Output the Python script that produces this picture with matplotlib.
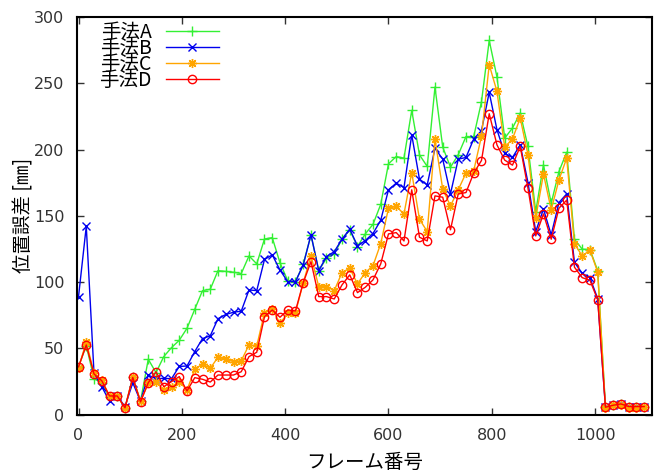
import matplotlib
matplotlib.use("Agg")
import matplotlib.pyplot as plt
import numpy as np

plt.rcParams['font.family'] = ['Noto Sans CJK JP', 'DejaVu Sans']

frames = [15 * i for i in range(74)]

method_a = [36, 52, 27, 24, 13, 14, 5, 28, 10, 41.7, 31.6, 43.7, 50.5, 56, 65.1, 79.4, 93.5, 94.5,
            108.6, 108, 107.4, 106.4, 119.7, 113.7, 132.5, 133.5, 114.5, 101, 100.3, 113.4, 135.6,
            108.6, 118, 121.2, 132.3, 139.3, 126.8, 136.3, 143.5, 158.6, 189.2, 194.7, 193.5, 229.5,
            196, 187.2, 247.1, 201.8, 186.7, 196, 209.8, 209.8, 236, 282.3, 254.7, 208.6, 216.2,
            227.5, 202.3, 153.2, 188.4, 159.5, 183.4, 198, 132.3, 124.8, 124.5, 108.5,
            5.5, 7, 8, 6, 6, 6]
method_b = [89, 142, 31, 21, 10, 14, 6, 24, 10, 29.8, 27, 27.3, 27, 36.3, 36.6, 47.5, 57.3, 59.4,
            72.3, 75.5, 77.2, 78, 94, 93.5, 117, 120.5, 109, 100.3, 100.3, 112.9, 135.6,
            108.6, 119.2, 122.9, 132.3, 139.9, 127.3, 131.3, 136.6, 146.6, 169.6, 174.6, 171.3, 211.1,
            177.6, 173.3, 201, 192.7, 166.5, 192.7, 194, 208, 214.2, 243.1, 214.9, 197, 194,
            203.5, 175.1, 138.1, 155, 135.6, 160, 166.5, 114.8, 106.6, 103.1, 87.5,
            5.5, 7, 8, 6, 6, 6]
method_c = [35, 55, 31, 26, 14, 14, 5, 28, 10, 23.5, 24.8, 18.5, 21, 24.8, 18.5, 34.1, 38.1, 34.9,
            43.2, 41.7, 39.9, 40.6, 52.5, 51.7, 76.9, 79.4, 69, 76.4, 76.9, 99.5, 119.7,
            96.5, 96.5, 93.5, 107.1, 110.4, 98.6, 107.1, 112.3, 129, 155.7, 157, 151.4, 182.6,
            147.4, 138.1, 207.9, 170.1, 157.5, 169.6, 182.2, 184, 210, 264, 243.8, 201.8, 208,
            223.7, 196, 148.2, 181.6, 154.5, 177.1, 193.5, 128.8, 119.7, 124, 107.5,
            5, 7, 7, 5, 5, 6]
method_d = [36, 52.5, 30.6, 25.5, 14, 14, 5.1, 28, 9.5, 24, 32.3, 21, 24.8, 28.6, 17.8, 27.8, 26.6, 24.5,
            29.8, 29.8, 29.8, 32.3, 43.7, 47, 73.8, 78.9, 73.4, 78.9, 78.2, 99.5, 115.4,
            89, 89, 87.2, 97.8, 105.4, 92, 96, 101.6, 113.7, 136.3, 137.3, 131, 169.6,
            133.8, 131, 165, 164, 139.4, 166.5, 167.5, 182.2, 191.7, 227, 203.5, 192, 188.2,
            202.3, 170.8, 134.8, 151.4, 132.3, 155.7, 161.8, 111.2, 103.3, 101.3, 86.5,
            5.5, 7, 8, 6, 6, 6]

labels = ['手法A', '手法B', '手法C', '手法D']
x_ticks = [0, 200, 400, 600, 800, 1000]
y_ticks = [0, 50, 100, 150, 200, 250, 300]

fig = plt.figure(figsize=(6.59, 4.74), dpi=100)
ax = fig.add_axes([0.1168, 0.1255, 0.8725, 0.8386])

styles = [
    dict(color='#33f033', marker='+', ms=7, mew=1.0),
    dict(color='#0000ee', marker='x', ms=5.5, mew=1.0),
    dict(color='#ffa500', marker=(8, 2, 0), ms=6.5, mew=1.0),
    dict(color='#ff0000', marker='o', ms=6, mew=1.0, mfc='none'),
]
for ys, lab, st in zip([method_a, method_b, method_c, method_d], labels, styles):
    ax.plot(frames, ys, lw=1.0, label=lab, **st)

ax.set_xlim(-3, 1110)
ax.set_ylim(0, 300)
ax.set_xticks(x_ticks)
ax.set_yticks(y_ticks)
ax.tick_params(direction='in', length=5, width=1, top=True, right=True,
               labelsize=11.5, labelcolor='#333333', color='#333333')
ax.tick_params(axis='y', pad=9)
ax.tick_params(axis='x', pad=10)
for lab in ax.get_xticklabels() + ax.get_yticklabels():
    lab.set_family(['DejaVu Sans'])
for sp in ax.spines.values():
    sp.set_linewidth(1.5)
    sp.set_color('black')

ax.set_xlabel('フレーム番号', fontsize=14, labelpad=6)
ax.set_ylabel('位置誤差 [㎜]', fontsize=14)
ax.yaxis.set_label_coords(-0.074, 0.5)

leg = ax.legend(loc='upper left', bbox_to_anchor=(0.03, 1.0), markerfirst=False,
                frameon=False, fontsize=14, handlelength=2.7, handletextpad=0.75,
                labelspacing=-0.25, borderaxespad=0.0, numpoints=1, borderpad=0.25)

fig.savefig('out.png', dpi=100)
